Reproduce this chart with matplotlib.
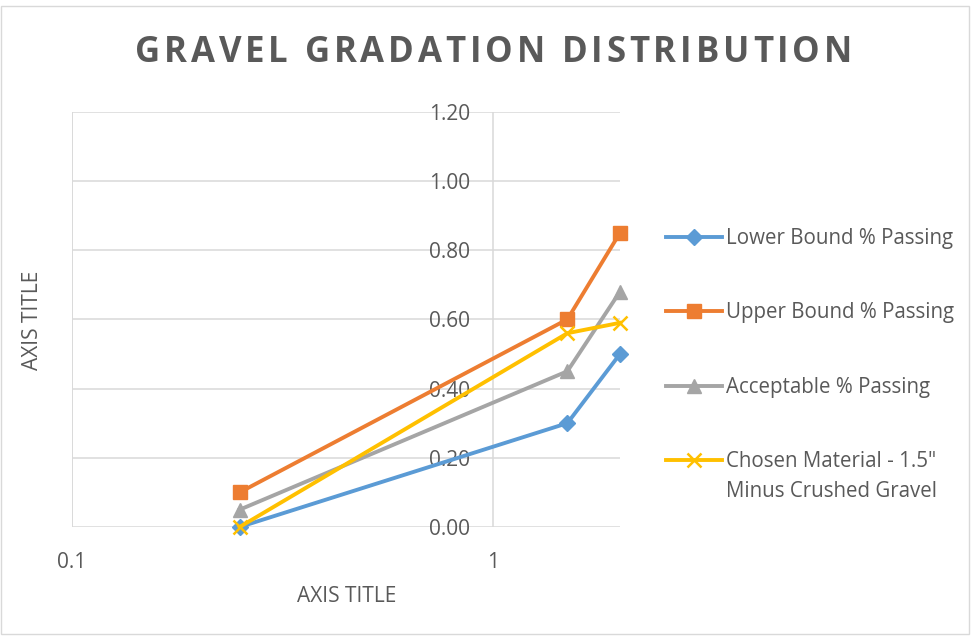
import matplotlib.pyplot as plt
from matplotlib.patches import Rectangle

sieve_size = [0.25, 1.5, 2.0]
lower_bound = [0.00, 0.30, 0.50]
upper_bound = [0.10, 0.60, 0.85]
acceptable = [0.05, 0.45, 0.68]
chosen = [0.00, 0.56, 0.59]

series_names = ['Lower Bound % Passing', 'Upper Bound % Passing',
                'Acceptable % Passing', 'Chosen Material - 1.5"']
last_name_2nd_line = 'Minus Crushed Gravel'
y_ticks = [0.0, 0.2, 0.4, 0.6, 0.8, 1.0, 1.2]
title = 'GRAVEL GRADATION DISTRIBUTION'

plt.rcParams['font.family'] = ['Open Sans', 'DejaVu Sans']
txt = '#595959'
grid = '#d9d9d9'

fig = plt.figure(figsize=(9.73, 6.38), dpi=100)
ax = fig.add_axes([72/973, 1-527/638, (620-72)/973, (527-111.7)/638])

styles = [
    dict(color='#5B9BD5', marker='D', markersize=8),
    dict(color='#ED7D31', marker='s', markersize=10),
    dict(color='#A5A5A5', marker='^', markersize=10.5),
    dict(color='#FFC000', marker='x', markersize=10, markeredgewidth=1.8),
]
for vals, name, st in zip([lower_bound, upper_bound, acceptable, chosen], series_names, styles):
    ax.plot(sieve_size, vals, label=name, linewidth=2.8, clip_on=False, zorder=3, **st)

ax.set_xscale('log')
ax.set_xlim(0.1, 2.0)
ax.set_ylim(0, 1.2)
ax.set_xticks([0.1, 1])
ax.set_xticklabels(['0.1', '1'])
ax.minorticks_off()
ax.set_yticks(y_ticks)
ax.set_yticklabels(['%.2f' % v for v in y_ticks])

ax.grid(True, color=grid, linewidth=1.1)
ax.axvline(0.1, color=grid, linewidth=1.1, zorder=1)
ax.set_axisbelow(True)
for s in ax.spines.values():
    s.set_visible(False)
ax.spines['left'].set_position(('data', 1))
ax.tick_params(length=0, labelsize=15, colors=txt)
ax.tick_params(axis='y', pad=16.5)
ax.tick_params(axis='x', pad=18)

fig.text(347/973, 1-597/638, 'AXIS TITLE', ha='center', va='center', fontsize=15, color=txt)
fig.text(32/973, 1-320/638, 'AXIS TITLE', ha='center', va='center', rotation=90, fontsize=15, color=txt)

# title with letter spacing: place each character
renderer = fig.canvas.get_renderer()
tkw = dict(fontsize=25, fontweight='bold', color=txt, va='center', ha='left')
def char_w(c):
    if c == ' ':
        a = fig.text(0, 0, 'A A', **tkw); b = fig.text(0, 0, 'AA', **tkw)
        w = a.get_window_extent(renderer).width - b.get_window_extent(renderer).width
        a.remove(); b.remove()
        return w
    t = fig.text(0, 0, c, **tkw)
    w = t.get_window_extent(renderer).width
    t.remove()
    return w
widths = [char_w(c) for c in title]
x0, x1 = 135, 852
extra = (x1 - x0 - sum(widths)) / (len(title) - 1)
x = x0
for c, w in zip(title, widths):
    if c != ' ':
        fig.text(x/973, 1-53/638, c, **tkw)
    x += w + extra

leg = ax.legend(loc='upper left', bbox_to_anchor=(666/973, 1-228/638), bbox_transform=fig.transFigure,
                frameon=False, fontsize=14.8, handlelength=2.7, handletextpad=0.2,
                labelspacing=2.6, borderaxespad=0, borderpad=0)
for t in leg.get_texts():
    t.set_color(txt)
for h in leg.get_lines():
    h.set_linewidth(2.8)

# second line of the last legend label, handle stays on the first line
fig.canvas.draw()
bb = leg.get_texts()[-1].get_window_extent(renderer)
fig.text(bb.x0/973, (bb.y0 + bb.y1)/2/638 - 30/638, last_name_2nd_line,
         ha='left', va='center', fontsize=14.8, color=txt)

fig.patches.append(Rectangle((1/973, 4/638), 968/973, 628/638, transform=fig.transFigure,
                             fill=False, edgecolor='#d9d9d9', linewidth=1))

fig.savefig('out.png', dpi=100)
